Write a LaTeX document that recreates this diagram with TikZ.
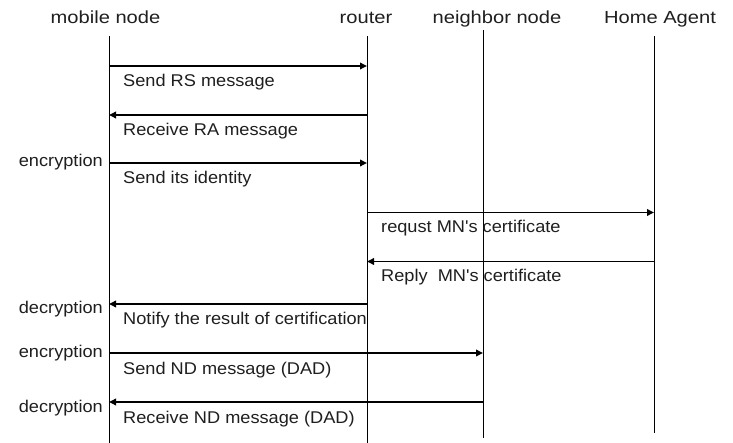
\documentclass[tikz,border=0pt]{standalone}
\usepackage{fontspec}
\usetikzlibrary{arrows.meta}
\newfontfamily\bodyfont{Liberation Sans}[FakeStretch=1.07]
\newfontfamily\headfont{Liberation Sans}[FakeStretch=1.15]
\tikzset{
  lifeline/.style={line width=0.9pt, draw=black},
  msg/.style={line width=1.9pt, draw=black, -{Triangle[length=7pt,width=6.5pt]}},
  msgtext/.style={anchor=base west, inner sep=0pt, font=\bodyfont\fontsize{17}{20}\selectfont, text=black!88},
  sidetext/.style={anchor=base east, inner sep=0pt, font=\bodyfont\fontsize{17}{20}\selectfont, text=black!88},
  headtext/.style={anchor=base, inner sep=0pt, font=\headfont\fontsize{17.5}{20}\selectfont, text=black!88}
}
\begin{document}
\begin{tikzpicture}[x=1pt, y=-1pt]
  \useasboundingbox (0,0) rectangle (733,443);
  \fill[white] (0,0) rectangle (733,443);

  % participants
  \node[headtext] (hmn) at (105.5,23.3) {mobile node};
  \node[headtext] (hr)  at (366,23.3) {router};
  \node[headtext] (hnb) at (497,23.3) {neighbor node};
  \node[headtext] (hha) at (660,23.3) {Home Agent};

  % lifelines
  \coordinate (mnT) at (109,36.5);  \coordinate (mnB) at (109,443);
  \coordinate (rT)  at (367,36.5);  \coordinate (rB)  at (367,443);
  \coordinate (nbT) at (483,30.5);  \coordinate (nbB) at (483,438);
  \coordinate (haT) at (654,36.5);  \coordinate (haB) at (654,433);
  \draw[lifeline] (mnT) -- (mnB);
  \draw[lifeline] (rT) -- (rB);
  \draw[lifeline] (nbT) -- (nbB);
  \draw[lifeline] (haT) -- (haB);

  % message end points on the lifelines
  \coordinate (m1a) at (109,66);    \coordinate (m1b) at (367,66);
  \coordinate (m2a) at (367,115);   \coordinate (m2b) at (109,115);
  \coordinate (m3a) at (109,163);   \coordinate (m3b) at (367,163);
  \coordinate (m4a) at (367,212.5); \coordinate (m4b) at (654,212.5);
  \coordinate (m5a) at (654,261.5); \coordinate (m5b) at (367,261.5);
  \coordinate (m6a) at (367,304);   \coordinate (m6b) at (109,304);
  \coordinate (m7a) at (109,353);   \coordinate (m7b) at (483,353);
  \coordinate (m8a) at (483,402);   \coordinate (m8b) at (109,402);

  % messages
  \draw[msg] (m1a) -- (m1b);
  \draw[msg] (m2a) -- (m2b);
  \draw[msg] (m3a) -- (m3b);
  \draw[msg] (m4a) -- (m4b);
  \draw[msg] (m5a) -- (m5b);
  \draw[msg] (m6a) -- (m6b);
  \draw[msg] (m7a) -- (m7b);
  \draw[msg] (m8a) -- (m8b);

  % message labels
  \node[msgtext] (l1) at (123,87) {Send RS message};
  \node[msgtext] (l2) at (123,136) {Receive RA message};
  \node[msgtext] (l3) at (123,184) {Send its identity};
  \node[msgtext] (l4) at (381,233) {requst MN's certificate};
  \node[msgtext] (l5) at (381,282) {Reply\ \ MN's certificate};
  \node[msgtext] (l6) at (123,325) {Notify the result of certification};
  \node[msgtext] (l7) at (123,374) {Send ND message (DAD)};
  \node[msgtext] (l8) at (123,423) {Receive ND message (DAD)};

  % crypto operations at the mobile node
  \node[sidetext] (e1) at (103,167) {encryption};
  \node[sidetext] (d1) at (103,314) {decryption};
  \node[sidetext] (e2) at (103,357) {encryption};
  \node[sidetext] (d2) at (103,412) {decryption};
\end{tikzpicture}
\end{document}
